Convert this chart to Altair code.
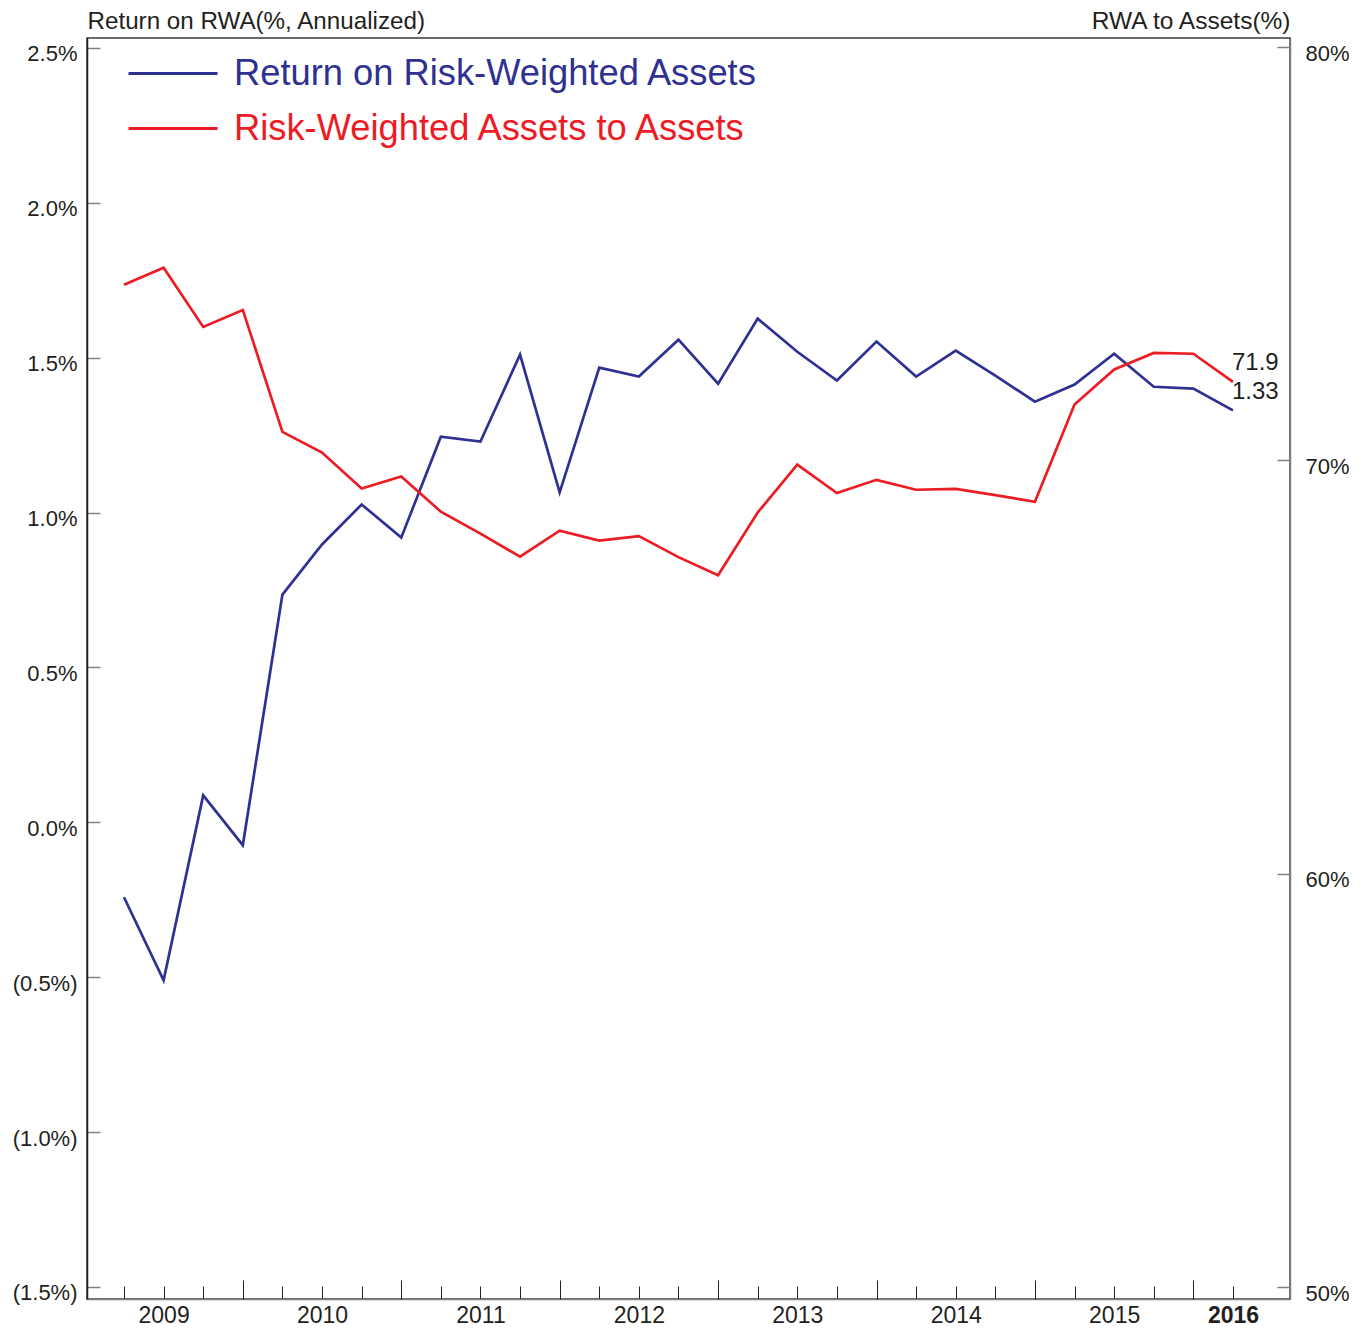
import altair as alt
import pandas as pd

# ---------------- data ----------------
quarters = ["2008Q4", "2009Q1", "2009Q2", "2009Q3", "2009Q4", "2010Q1", "2010Q2",
            "2010Q3", "2010Q4", "2011Q1", "2011Q2", "2011Q3", "2011Q4", "2012Q1",
            "2012Q2", "2012Q3", "2012Q4", "2013Q1", "2013Q2", "2013Q3", "2013Q4",
            "2014Q1", "2014Q2", "2014Q3", "2014Q4", "2015Q1", "2015Q2", "2015Q3",
            "2015Q4"]

rorwa = [-0.242, -0.510, 0.087, -0.074, 0.735, 0.897, 1.026, 0.919, 1.245, 1.229,
         1.510, 1.065, 1.468, 1.439, 1.558, 1.416, 1.626, 1.519, 1.426, 1.552,
         1.439, 1.523, 1.442, 1.358, 1.413, 1.513, 1.406, 1.400, 1.33]

rwa_to_assets = [74.25, 74.66, 73.23, 73.64, 70.69, 70.19, 69.32, 69.61, 68.76, 68.23,
                 67.67, 68.30, 68.06, 68.17, 67.66, 67.22, 68.74, 69.90, 69.21, 69.53,
                 69.29, 69.31, 69.16, 69.00, 71.35, 72.20, 72.60, 72.58, 71.9]

series_names = ["Return on Risk-Weighted Assets", "Risk-Weighted Assets to Assets"]
series_colors = ["#2e3192", "#ed1c24"]

year_label_pos = [1, 5, 9, 13, 17, 21, 25, 28]
year_labels = ["2009", "2010", "2011", "2012", "2013", "2014", "2015", "2016"]
major_tick_pos = [3, 7, 11, 15, 19, 23, 27]

left_ticks = [-1.5, -1.0, -0.5, 0.0, 0.5, 1.0, 1.5, 2.0, 2.5]
right_ticks = [50, 60, 70, 80]

left_title = "Return on RWA(%, Annualized)"
right_title = "RWA to Assets(%)"

# ---------------- tables ----------------
idx = list(range(len(quarters)))
df_blue = pd.DataFrame({"idx": idx, "quarter": quarters, "value": rorwa,
                        "series": series_names[0]})
df_red = pd.DataFrame({"idx": idx, "quarter": quarters, "value": rwa_to_assets,
                       "series": series_names[1]})
last_idx = idx[-1]

FONT = "Liberation Sans"
TXT = "#231f20"
GREY = "#808080"

W, H = 1203, 1261
x_domain = [-0.934, 29.44]

label_expr_x = " : ".join(
    [f"datum.value == {p} ? '{l}'" for p, l in zip(year_label_pos, year_labels)]
) + " : ''"

x_axis_main = alt.Axis(
    orient="bottom", values=idx, labelExpr=label_expr_x, title=None, grid=False,
    tickSize=alt.ExprRef(expr="-13"), tickColor=TXT, tickWidth=1,
    domainColor=GREY, domainWidth=1.5,
    labelFont=FONT, labelFontSize=23, labelColor=TXT, labelPadding=18,
    labelFontWeight={"condition": {"test": f"datum.value == {year_label_pos[-1]}", "value": "bold"},
                     "value": "normal"},
    labelOverlap=False, labelFlush=False, labelBound=False,
)
x_axis_major = alt.Axis(
    orient="bottom", values=major_tick_pos, labels=False, domain=False, title=None,
    grid=False, tickSize=alt.ExprRef(expr="-19"), tickColor=TXT, tickWidth=1,
)

x_left = alt.X("idx:Q", scale=alt.Scale(domain=x_domain, nice=False, zero=False),
               axis=x_axis_main)
x_right = alt.X("idx:Q", scale=alt.Scale(domain=x_domain, nice=False, zero=False),
                axis=x_axis_major)

y_left = alt.Y(
    "value:Q",
    scale=alt.Scale(domain=[-1.539, 2.532], nice=False, zero=False),
    axis=alt.Axis(
        orient="left", values=left_ticks, grid=False,
        labelExpr="datum.value < 0 ? '(' + format(-datum.value, '.1f') + '%)' : format(datum.value, '.1f') + '%'",
        tickSize=alt.ExprRef(expr="-13"), tickColor=GREY, tickWidth=1.5,
        domainColor=TXT, domainWidth=1.5,
        labelFont=FONT, labelFontSize=22, labelColor=TXT, labelPadding=23,
        labelOffset=6,
        title=left_title, titleAngle=0, titleAlign="left", titleBaseline="alphabetic",
        titleX=0, titleY=-10, titleFont=FONT, titleFontSize=24.2, titleFontWeight="normal",
        titleColor=TXT,
    ),
)
y_right = alt.Y(
    "value:Q",
    scale=alt.Scale(domain=[49.71, 80.22], nice=False, zero=False),
    axis=alt.Axis(
        orient="right", values=right_ticks, grid=False,
        labelExpr="datum.value + '%'",
        tickSize=alt.ExprRef(expr="-13"), tickColor=GREY, tickWidth=1.5,
        domainColor=GREY, domainWidth=1.5,
        labelFont=FONT, labelFontSize=22, labelColor=TXT, labelPadding=28,
        labelOffset=6,
        title=right_title, titleAngle=0, titleAlign="right", titleBaseline="alphabetic",
        titleX=0, titleY=-10, titleFont=FONT, titleFontSize=24.5, titleFontWeight="normal",
        titleColor=TXT,
    ),
)

legend = alt.Legend(
    title=None, orient="none", legendX=40, legendY=8, direction="vertical",
    symbolType="stroke", symbolSize=7921, symbolStrokeWidth=3,
    labelFont=FONT, labelFontSize=36.3, labelLimit=0, labelOffset=15,
    labelColor=alt.ExprRef(expr=f"datum.label == '{series_names[0]}' ? '{series_colors[0]}' : '{series_colors[1]}'"),
    rowPadding=0, clipHeight=55, padding=0,
)
color = alt.Color("series:N", scale=alt.Scale(domain=series_names, range=series_colors),
                  legend=legend)

blue_line = alt.Chart(df_blue).mark_line(strokeWidth=2.7).encode(
    x=x_left, y=y_left, color=color)
blue_text = alt.Chart(df_blue).transform_filter(f"datum.idx == {last_idx}").mark_text(
    align="left", baseline="alphabetic", dx=-1, dy=-11, font=FONT, fontSize=24, color=TXT
).encode(x=x_left, y=y_left, text=alt.Text("value:Q", format=".2f"))

red_line = alt.Chart(df_red).mark_line(strokeWidth=2.7).encode(
    x=x_right, y=y_right, color=color)
red_text = alt.Chart(df_red).transform_filter(f"datum.idx == {last_idx}").mark_text(
    align="left", baseline="alphabetic", dx=-1, dy=-12, font=FONT, fontSize=24, color=TXT
).encode(x=x_right, y=y_right, text=alt.Text("value:Q", format=".1f"))

left_group = alt.layer(blue_line, blue_text)
right_group = alt.layer(red_line, red_text)

chart = alt.layer(left_group, right_group).resolve_scale(
    x="independent", y="independent"
).properties(
    width=W, height=H,
    autosize=alt.AutoSizeParams(type="none"),
    padding={"left": 79, "top": 30, "right": 70, "bottom": 28},
    background="white",
).configure_view(stroke="#3a3a3a", strokeWidth=1.5)

chart.save("out.html", embed_options={"renderer": "svg", "actions": False})
